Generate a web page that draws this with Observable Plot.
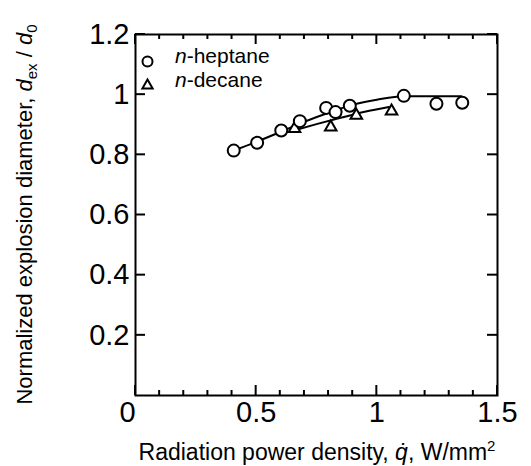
<!DOCTYPE html>
<html><head><meta charset="utf-8">
<script src="https://cdn.jsdelivr.net/npm/d3@7"></script>
<script src="https://cdn.jsdelivr.net/npm/@observablehq/plot@0.6"></script>
<style>
body{margin:0;background:#fff;}
svg{font-family:"Liberation Sans",Arial,sans-serif;}
</style>
</head><body><div id="chart"></div>
<script>
// n-heptane measurements
const heptaneQ = [0.407, 0.504, 0.604, 0.681, 0.790, 0.829, 0.888, 1.112, 1.247, 1.354];
const heptaneD = [0.814, 0.840, 0.881, 0.912, 0.956, 0.942, 0.963, 0.996, 0.970, 0.973];
// n-decane measurements
const decaneQ = [0.659, 0.809, 0.915, 1.061];
const decaneD = [0.887, 0.892, 0.931, 0.945];
// fitted curves
const heptaneFitQ = [0.407, 0.5, 0.6, 0.7, 0.8, 0.9, 1.0, 1.11, 1.35];
const heptaneFitD = [0.814, 0.843, 0.876, 0.910, 0.940, 0.966, 0.983, 0.995, 0.995];
const decaneFitQ = [0.66, 0.75, 0.85, 0.95, 1.05];
const decaneFitD = [0.882, 0.902, 0.923, 0.943, 0.959];
// ticks
const xMajor = [0, 0.5, 1, 1.5];
const xMinor = [0.1, 0.2, 0.3, 0.4, 0.6, 0.7, 0.8, 0.9, 1.1, 1.2, 1.3, 1.4];
const yMajor = [0.2, 0.4, 0.6, 0.8, 1, 1.2];
const yLabels = [0.2, 0.4, 0.6, 0.8, 1, 1.2];
const legendNames = ["heptane", "decane"];

const W = 531, H = 466, mL = 135, mR = 34, mT = 34, mB = 71;
const iw = W - mL - mR, ih = H - mT - mB;

const hept = heptaneQ.map((q, i) => ({q, d: heptaneD[i]}));
const dec = decaneQ.map((q, i) => ({q, d: decaneD[i]}));
const heptFit = heptaneFitQ.map((q, i) => ({q, d: heptaneFitD[i]}));
const decFit = decaneFitQ.map((q, i) => ({q, d: decaneFitD[i]}));

const fmt = d => String(d);
const plot = Plot.plot({
  width: W, height: H,
  marginLeft: mL, marginRight: mR, marginTop: mT, marginBottom: mB,
  style: {fontFamily: '"Liberation Sans", Arial, sans-serif', background: "white", color: "black", overflow: "visible"},
  x: {domain: [0, 1.5]},
  y: {domain: [0, 1.2]},
  marks: [
    Plot.frame({stroke: "black", strokeWidth: 2, fill: "none"}),
    Plot.axisX(xMajor, {tickSize: 0, tickPadding: 6, fontSize: 29, tickFormat: fmt, label: null}),
    Plot.axisY(yLabels, {tickSize: 0, tickPadding: 6, fontSize: 29, tickFormat: fmt, label: null}),
    Plot.line(heptFit, {x: "q", y: "d", stroke: "black", strokeWidth: 2, curve: "monotone-x"}),
    Plot.line(decFit, {x: "q", y: "d", stroke: "black", strokeWidth: 2, curve: "monotone-x"}),
    Plot.dot(dec, {x: "q", y: "d", symbol: "triangle", r: 4.3, stroke: "black", strokeWidth: 2, fill: "white"}),
    Plot.dot(hept, {x: "q", y: "d", symbol: "circle", r: 6, stroke: "black", strokeWidth: 2, fill: "white"}),
    // legend symbols
    Plot.dot([legendNames[0]], {frameAnchor: "top-left", dx: 12, dy: 27, symbol: "circle", r: 5, stroke: "black", strokeWidth: 2, fill: "white"}),
    Plot.dot([legendNames[1]], {frameAnchor: "top-left", dx: 12, dy: 51, symbol: "triangle", r: 3.8, stroke: "black", strokeWidth: 2, fill: "white"})
  ]
});

const svg = d3.select(plot);
const sx = plot.scale("x"), sy = plot.scale("y");
const X = v => sx.apply(v), Y = v => sy.apply(v);
const x0 = X(0), x1 = X(1.5), y0 = Y(0), y1 = Y(1.2);

// inward tick marks on all four sides, positioned with Plot's scales
const tg = svg.append("g").attr("stroke", "black").attr("stroke-width", 2).attr("fill", "none");
const addX = (vals, len) => vals.forEach(v => {
  tg.append("line").attr("x1", X(v)).attr("x2", X(v)).attr("y1", y0).attr("y2", y0 - len);
  tg.append("line").attr("x1", X(v)).attr("x2", X(v)).attr("y1", y1).attr("y2", y1 + len);
});
addX(xMinor, 5);
addX(xMajor, 10);
yMajor.forEach(v => {
  tg.append("line").attr("x1", x0).attr("x2", x0 + 10).attr("y1", Y(v)).attr("y2", Y(v));
  tg.append("line").attr("x1", x1).attr("x2", x1 - 10).attr("y1", Y(v)).attr("y2", Y(v));
});

// shift the shared "0" label slightly left
svg.selectAll('[aria-label="x-axis tick label"] text').filter(function() { return this.textContent === "0"; }).attr("dx", -8);

// legend text
const leg = svg.append("g").attr("font-size", 21).attr("fill", "black").attr("text-anchor", "start");
[[legendNames[0], 63], [legendNames[1], 87]].forEach(([name, y]) => {
  const t = leg.append("text").attr("x", 175).attr("y", y);
  t.append("tspan").attr("font-style", "italic").text("n");
  t.append("tspan").text("-" + name);
});

// x title
const xt = svg.append("text").attr("x", mL + iw / 2 + 1).attr("y", 460).attr("text-anchor", "middle").attr("font-size", 23).attr("fill", "black");
xt.append("tspan").text("Radiation power density, ");
xt.append("tspan").attr("font-style", "italic").text("q\u0307");
xt.append("tspan").text(", W/mm");
xt.append("tspan").attr("font-size", 15).attr("dy", -9).text("2");

// y title
const yt = svg.append("text").attr("transform", `translate(32,${mT + ih / 2}) rotate(-90)`).attr("text-anchor", "middle").attr("font-size", 22).attr("fill", "black");
yt.append("tspan").text("Normalized explosion diameter, ");
yt.append("tspan").attr("font-style", "italic").text("d");
yt.append("tspan").attr("font-size", 15).attr("dy", 5).text("ex");
yt.append("tspan").attr("dy", -5).text(" / ");
yt.append("tspan").attr("font-style", "italic").text("d");
yt.append("tspan").attr("font-size", 15).attr("dy", 5).text("0");

document.getElementById("chart").appendChild(plot);
</script>
</body></html>
